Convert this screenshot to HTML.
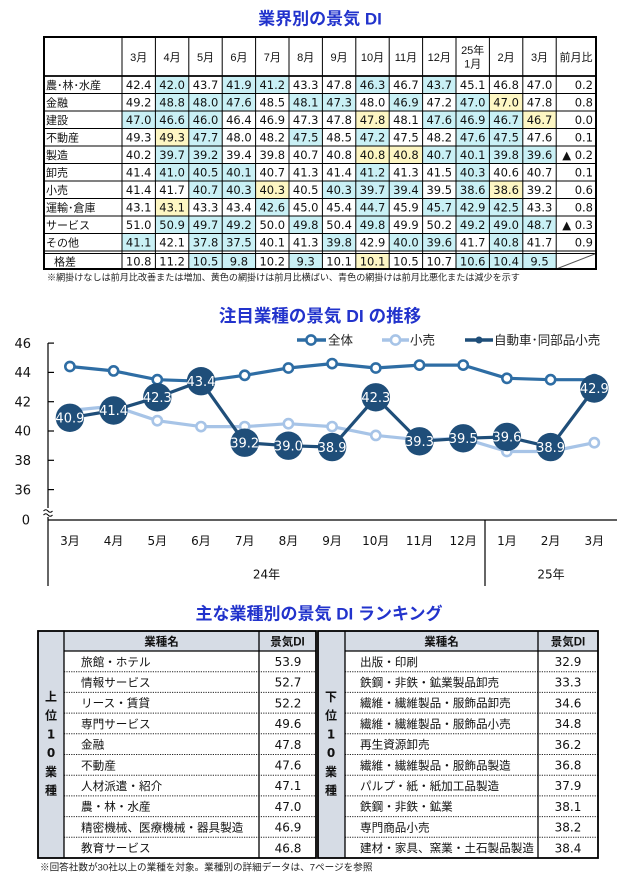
<!DOCTYPE html>
<html><head><meta charset="utf-8">
<style>
html,body{margin:0;padding:0;background:#fff;}
svg{display:block}
.n{font-family:"DejaVu Sans","Noto Sans CJK JP",sans-serif;font-size:11.5px;text-anchor:middle;fill:#111}
.nr{font-family:"DejaVu Sans","Noto Sans CJK JP",sans-serif;font-size:11.5px;text-anchor:end;fill:#111}
.l{font-family:"Liberation Sans","Noto Sans CJK JP",sans-serif;font-size:11px;fill:#111}
.h{font-family:"Liberation Sans","Noto Sans CJK JP",sans-serif;font-size:11px;fill:#111;text-anchor:middle}
.t{font-family:"Liberation Sans","Noto Sans CJK JP",sans-serif;font-weight:bold;font-size:17px;fill:#2233cc;text-anchor:middle}
.c{fill:#c9f0f5}
.y{fill:#fdf6c3}
.ax{font-family:"DejaVu Sans","Noto Sans CJK JP",sans-serif;font-size:13px;fill:#111;text-anchor:end}
.mo{font-family:"DejaVu Sans","Noto Sans CJK JP",sans-serif;font-size:12px;fill:#111;text-anchor:middle}
.lg{font-family:"Liberation Sans","Noto Sans CJK JP",sans-serif;font-size:12.5px;fill:#222}
.bl{font-family:"DejaVu Sans",sans-serif;font-size:13px;fill:#fff;text-anchor:middle}
.rn{font-family:"Liberation Sans","Noto Sans CJK JP",sans-serif;font-size:11.6px;fill:#111}
.rv{font-family:"DejaVu Sans",sans-serif;font-size:12px;fill:#111;text-anchor:middle}
.rh{font-family:"Liberation Sans","Noto Sans CJK JP",sans-serif;font-size:11.5px;font-weight:bold;fill:#111;text-anchor:middle}
.sd{font-family:"DejaVu Sans","Noto Sans CJK JP",sans-serif;font-size:12px;font-weight:bold;fill:#111;text-anchor:middle}
.fn{font-family:"Liberation Sans","Noto Sans CJK JP",sans-serif;font-size:9.1px;fill:#222}
</style></head>
<body>
<svg width="625" height="874" viewBox="0 0 625 874" xmlns="http://www.w3.org/2000/svg">
<rect width="625" height="874" fill="#fff"/>

<!-- ===== TABLE 1 ===== -->
<text class="t" x="320" y="24.5">業界別の景気 DI</text>

<g>
<rect class="c" x="155.4" y="76" width="33.4" height="17.5"/><rect class="c" x="222.2" y="76" width="33.4" height="17.5"/><rect class="c" x="255.6" y="76" width="33.4" height="17.5"/><rect class="c" x="355.8" y="76" width="33.4" height="17.5"/><rect class="c" x="422.6" y="76" width="33.4" height="17.5"/>

<rect class="c" x="155.4" y="93.5" width="33.4" height="17.5"/><rect class="c" x="188.8" y="93.5" width="33.4" height="17.5"/><rect class="c" x="222.2" y="93.5" width="33.4" height="17.5"/><rect class="c" x="289" y="93.5" width="33.4" height="17.5"/><rect class="c" x="322.4" y="93.5" width="33.4" height="17.5"/><rect class="c" x="389.2" y="93.5" width="33.4" height="17.5"/><rect class="c" x="456" y="93.5" width="33.4" height="17.5"/><rect class="y" x="489.4" y="93.5" width="33.4" height="17.5"/>

<rect class="c" x="122" y="111" width="33.4" height="17.5"/><rect class="c" x="155.4" y="111" width="33.4" height="17.5"/><rect class="c" x="188.8" y="111" width="33.4" height="17.5"/><rect class="c" x="422.6" y="111" width="33.4" height="17.5"/><rect class="c" x="456" y="111" width="33.4" height="17.5"/><rect class="c" x="489.4" y="111" width="33.4" height="17.5"/><rect class="y" x="355.8" y="111" width="33.4" height="17.5"/><rect class="y" x="522.8" y="111" width="33.4" height="17.5"/>

<rect class="y" x="155.4" y="128.5" width="33.4" height="17.5"/><rect class="c" x="188.8" y="128.5" width="33.4" height="17.5"/><rect class="c" x="289" y="128.5" width="33.4" height="17.5"/><rect class="c" x="355.8" y="128.5" width="33.4" height="17.5"/><rect class="c" x="456" y="128.5" width="33.4" height="17.5"/><rect class="c" x="489.4" y="128.5" width="33.4" height="17.5"/>

<rect class="c" x="155.4" y="146" width="33.4" height="17.5"/><rect class="c" x="188.8" y="146" width="33.4" height="17.5"/><rect class="c" x="422.6" y="146" width="33.4" height="17.5"/><rect class="c" x="456" y="146" width="33.4" height="17.5"/><rect class="c" x="489.4" y="146" width="33.4" height="17.5"/><rect class="c" x="522.8" y="146" width="33.4" height="17.5"/><rect class="y" x="355.8" y="146" width="33.4" height="17.5"/><rect class="y" x="389.2" y="146" width="33.4" height="17.5"/>

<rect class="c" x="155.4" y="163.5" width="33.4" height="17.5"/><rect class="c" x="188.8" y="163.5" width="33.4" height="17.5"/><rect class="c" x="222.2" y="163.5" width="33.4" height="17.5"/><rect class="c" x="355.8" y="163.5" width="33.4" height="17.5"/><rect class="c" x="456" y="163.5" width="33.4" height="17.5"/>

<rect class="c" x="188.8" y="181" width="33.4" height="17.5"/><rect class="c" x="222.2" y="181" width="33.4" height="17.5"/><rect class="c" x="322.4" y="181" width="33.4" height="17.5"/><rect class="c" x="355.8" y="181" width="33.4" height="17.5"/><rect class="c" x="389.2" y="181" width="33.4" height="17.5"/><rect class="c" x="456" y="181" width="33.4" height="17.5"/><rect class="y" x="255.6" y="181" width="33.4" height="17.5"/><rect class="y" x="489.4" y="181" width="33.4" height="17.5"/>

<rect class="y" x="155.4" y="198.5" width="33.4" height="17.5"/><rect class="c" x="255.6" y="198.5" width="33.4" height="17.5"/><rect class="c" x="355.8" y="198.5" width="33.4" height="17.5"/><rect class="c" x="422.6" y="198.5" width="33.4" height="17.5"/><rect class="c" x="456" y="198.5" width="33.4" height="17.5"/><rect class="c" x="489.4" y="198.5" width="33.4" height="17.5"/>

<rect class="c" x="155.4" y="216" width="33.4" height="17.5"/><rect class="c" x="188.8" y="216" width="33.4" height="17.5"/><rect class="c" x="222.2" y="216" width="33.4" height="17.5"/><rect class="c" x="289" y="216" width="33.4" height="17.5"/><rect class="c" x="355.8" y="216" width="33.4" height="17.5"/><rect class="c" x="456" y="216" width="33.4" height="17.5"/><rect class="c" x="489.4" y="216" width="33.4" height="17.5"/><rect class="c" x="522.8" y="216" width="33.4" height="17.5"/>

<rect class="c" x="122" y="233.5" width="33.4" height="17.5"/><rect class="c" x="188.8" y="233.5" width="33.4" height="17.5"/><rect class="c" x="222.2" y="233.5" width="33.4" height="17.5"/><rect class="c" x="322.4" y="233.5" width="33.4" height="17.5"/><rect class="c" x="389.2" y="233.5" width="33.4" height="17.5"/><rect class="c" x="422.6" y="233.5" width="33.4" height="17.5"/><rect class="c" x="489.4" y="233.5" width="33.4" height="17.5"/>

<rect class="c" x="188.8" y="253.5" width="33.4" height="15.5"/><rect class="c" x="222.2" y="253.5" width="33.4" height="15.5"/><rect class="c" x="289" y="253.5" width="33.4" height="15.5"/><rect class="c" x="456" y="253.5" width="33.4" height="15.5"/><rect class="c" x="489.4" y="253.5" width="33.4" height="15.5"/><rect class="c" x="522.8" y="253.5" width="33.4" height="15.5"/><rect class="y" x="355.8" y="253.5" width="33.4" height="15.5"/>
</g>

<g stroke="#000" stroke-width="1" fill="none">
<path d="M122,37V269M155.4,37V269M188.8,37V269M222.2,37V269M255.6,37V269M289,37V269M322.4,37V269M355.8,37V269M389.2,37V269M422.6,37V269M456,37V269M489.4,37V269M522.8,37V269M556.2,37V269"/>
<path d="M44,93.5H596M44,111H596M44,128.5H596M44,146H596M44,163.5H596M44,181H596M44,198.5H596M44,216H596M44,233.5H596M44,251H596M44,253.5H596"/>
<path d="M44,76H596" stroke-width="1.8"/>
<path d="M556.2,269L596,253.5" stroke="#555"/>
<rect x="44" y="37" width="552" height="232" stroke-width="2"/>
</g>

<text class="h" y="61"><tspan x="138.7">3月</tspan><tspan x="172.1">4月</tspan><tspan x="205.5">5月</tspan><tspan x="238.9">6月</tspan><tspan x="272.3">7月</tspan><tspan x="305.7">8月</tspan><tspan x="339.1">9月</tspan><tspan x="372.5">10月</tspan><tspan x="405.9">11月</tspan><tspan x="439.3">12月</tspan><tspan x="506.1">2月</tspan><tspan x="539.5">3月</tspan><tspan x="576">前月比</tspan></text>
<text class="h" x="472.7" y="54">25年</text>
<text class="h" x="472.7" y="67.5">1月</text>

<text class="l" x="46" y="89">農･林･水産</text>
<text class="l" x="46" y="106.5">金融</text>
<text class="l" x="46" y="124">建設</text>
<text class="l" x="46" y="141.5">不動産</text>
<text class="l" x="46" y="159">製造</text>
<text class="l" x="46" y="176.5">卸売</text>
<text class="l" x="46" y="194">小売</text>
<text class="l" x="46" y="211.5">運輸･倉庫</text>
<text class="l" x="46" y="229">サービス</text>
<text class="l" x="46" y="246.5">その他</text>
<text class="l" x="54" y="265.5">格差</text>

<text class="n" y="89"><tspan x="138.7">42.4</tspan><tspan x="172.1">42.0</tspan><tspan x="205.5">43.7</tspan><tspan x="238.9">41.9</tspan><tspan x="272.3">41.2</tspan><tspan x="305.7">43.3</tspan><tspan x="339.1">47.8</tspan><tspan x="372.5">46.3</tspan><tspan x="405.9">46.7</tspan><tspan x="439.3">43.7</tspan><tspan x="472.7">45.1</tspan><tspan x="506.1">46.8</tspan><tspan x="539.5">47.0</tspan></text>
<text class="n" y="106.5"><tspan x="138.7">49.2</tspan><tspan x="172.1">48.8</tspan><tspan x="205.5">48.0</tspan><tspan x="238.9">47.6</tspan><tspan x="272.3">48.5</tspan><tspan x="305.7">48.1</tspan><tspan x="339.1">47.3</tspan><tspan x="372.5">48.0</tspan><tspan x="405.9">46.9</tspan><tspan x="439.3">47.2</tspan><tspan x="472.7">47.0</tspan><tspan x="506.1">47.0</tspan><tspan x="539.5">47.8</tspan></text>
<text class="n" y="124"><tspan x="138.7">47.0</tspan><tspan x="172.1">46.6</tspan><tspan x="205.5">46.0</tspan><tspan x="238.9">46.4</tspan><tspan x="272.3">46.9</tspan><tspan x="305.7">47.3</tspan><tspan x="339.1">47.8</tspan><tspan x="372.5">47.8</tspan><tspan x="405.9">48.1</tspan><tspan x="439.3">47.6</tspan><tspan x="472.7">46.9</tspan><tspan x="506.1">46.7</tspan><tspan x="539.5">46.7</tspan></text>
<text class="n" y="141.5"><tspan x="138.7">49.3</tspan><tspan x="172.1">49.3</tspan><tspan x="205.5">47.7</tspan><tspan x="238.9">48.0</tspan><tspan x="272.3">48.2</tspan><tspan x="305.7">47.5</tspan><tspan x="339.1">48.5</tspan><tspan x="372.5">47.2</tspan><tspan x="405.9">47.5</tspan><tspan x="439.3">48.2</tspan><tspan x="472.7">47.6</tspan><tspan x="506.1">47.5</tspan><tspan x="539.5">47.6</tspan></text>
<text class="n" y="159"><tspan x="138.7">40.2</tspan><tspan x="172.1">39.7</tspan><tspan x="205.5">39.2</tspan><tspan x="238.9">39.4</tspan><tspan x="272.3">39.8</tspan><tspan x="305.7">40.7</tspan><tspan x="339.1">40.8</tspan><tspan x="372.5">40.8</tspan><tspan x="405.9">40.8</tspan><tspan x="439.3">40.7</tspan><tspan x="472.7">40.1</tspan><tspan x="506.1">39.8</tspan><tspan x="539.5">39.6</tspan></text>
<text class="n" y="176.5"><tspan x="138.7">41.4</tspan><tspan x="172.1">41.0</tspan><tspan x="205.5">40.5</tspan><tspan x="238.9">40.1</tspan><tspan x="272.3">40.7</tspan><tspan x="305.7">41.3</tspan><tspan x="339.1">41.4</tspan><tspan x="372.5">41.2</tspan><tspan x="405.9">41.3</tspan><tspan x="439.3">41.5</tspan><tspan x="472.7">40.3</tspan><tspan x="506.1">40.6</tspan><tspan x="539.5">40.7</tspan></text>
<text class="n" y="194"><tspan x="138.7">41.4</tspan><tspan x="172.1">41.7</tspan><tspan x="205.5">40.7</tspan><tspan x="238.9">40.3</tspan><tspan x="272.3">40.3</tspan><tspan x="305.7">40.5</tspan><tspan x="339.1">40.3</tspan><tspan x="372.5">39.7</tspan><tspan x="405.9">39.4</tspan><tspan x="439.3">39.5</tspan><tspan x="472.7">38.6</tspan><tspan x="506.1">38.6</tspan><tspan x="539.5">39.2</tspan></text>
<text class="n" y="211.5"><tspan x="138.7">43.1</tspan><tspan x="172.1">43.1</tspan><tspan x="205.5">43.3</tspan><tspan x="238.9">43.4</tspan><tspan x="272.3">42.6</tspan><tspan x="305.7">45.0</tspan><tspan x="339.1">45.4</tspan><tspan x="372.5">44.7</tspan><tspan x="405.9">45.9</tspan><tspan x="439.3">45.7</tspan><tspan x="472.7">42.9</tspan><tspan x="506.1">42.5</tspan><tspan x="539.5">43.3</tspan></text>
<text class="n" y="229"><tspan x="138.7">51.0</tspan><tspan x="172.1">50.9</tspan><tspan x="205.5">49.7</tspan><tspan x="238.9">49.2</tspan><tspan x="272.3">50.0</tspan><tspan x="305.7">49.8</tspan><tspan x="339.1">50.4</tspan><tspan x="372.5">49.8</tspan><tspan x="405.9">49.9</tspan><tspan x="439.3">50.2</tspan><tspan x="472.7">49.2</tspan><tspan x="506.1">49.0</tspan><tspan x="539.5">48.7</tspan></text>
<text class="n" y="246.5"><tspan x="138.7">41.1</tspan><tspan x="172.1">42.1</tspan><tspan x="205.5">37.8</tspan><tspan x="238.9">37.5</tspan><tspan x="272.3">40.1</tspan><tspan x="305.7">41.3</tspan><tspan x="339.1">39.8</tspan><tspan x="372.5">42.9</tspan><tspan x="405.9">40.0</tspan><tspan x="439.3">39.6</tspan><tspan x="472.7">41.7</tspan><tspan x="506.1">40.8</tspan><tspan x="539.5">41.7</tspan></text>
<text class="n" y="265.5"><tspan x="138.7">10.8</tspan><tspan x="172.1">11.2</tspan><tspan x="205.5">10.5</tspan><tspan x="238.9">9.8</tspan><tspan x="272.3">10.2</tspan><tspan x="305.7">9.3</tspan><tspan x="339.1">10.1</tspan><tspan x="372.5">10.1</tspan><tspan x="405.9">10.5</tspan><tspan x="439.3">10.7</tspan><tspan x="472.7">10.6</tspan><tspan x="506.1">10.4</tspan><tspan x="539.5">9.5</tspan></text>

<text class="nr" x="593" y="89">0.2</text>
<text class="nr" x="593" y="106.5">0.8</text>
<text class="nr" x="593" y="124">0.0</text>
<text class="nr" x="593" y="141.5">0.1</text>
<text class="nr" x="593" y="159">▲ 0.2</text>
<text class="nr" x="593" y="176.5">0.1</text>
<text class="nr" x="593" y="194">0.6</text>
<text class="nr" x="593" y="211.5">0.8</text>
<text class="nr" x="593" y="229">▲ 0.3</text>
<text class="nr" x="593" y="246.5">0.9</text>

<text class="fn" x="47" y="280.5">※網掛けなしは前月比改善または増加、黄色の網掛けは前月比横ばい、青色の網掛けは前月比悪化または減少を示す</text>

<!-- ===== CHART ===== -->
<text class="t" x="320" y="322" style="font-size:17.5px">注目業種の景気 DI の推移</text>

<line x1="297" y1="340" x2="326" y2="340" stroke="#2e6da4" stroke-width="3.5"/>
<circle cx="311" cy="340" r="4.6" fill="#fff" stroke="#2e6da4" stroke-width="2.6"/>
<text class="lg" x="328" y="344.5">全体</text>
<line x1="382" y1="340" x2="409" y2="340" stroke="#a7c4e7" stroke-width="3.5"/>
<circle cx="395.5" cy="340" r="4.6" fill="#fff" stroke="#a7c4e7" stroke-width="2.6"/>
<text class="lg" x="410" y="344.5">小売</text>
<line x1="465" y1="340" x2="493" y2="340" stroke="#1f4e79" stroke-width="3.5"/>
<circle cx="479" cy="340" r="3.5" fill="#1f4e79"/>
<text class="lg" x="494" y="344.5">自動車･同部品小売</text>

<g stroke="#000" stroke-width="1.2">
<line x1="48" y1="343" x2="48" y2="508"/>
<line x1="48" y1="517" x2="48" y2="520"/>
<line x1="48" y1="343.1" x2="54" y2="343.1"/>
<line x1="48" y1="372.4" x2="54" y2="372.4"/>
<line x1="48" y1="401.7" x2="54" y2="401.7"/>
<line x1="48" y1="431" x2="54" y2="431"/>
<line x1="48" y1="460.3" x2="54" y2="460.3"/>
<line x1="48" y1="489.6" x2="54" y2="489.6"/>
</g>
<path d="M43.5,511 q2.3,-2.6 4.5,0 t4.5,0 M43.5,515 q2.3,-2.6 4.5,0 t4.5,0" stroke="#000" stroke-width="1" fill="none"/>
<text class="ax" x="31" y="347.8">46</text>
<text class="ax" x="31" y="377.1">44</text>
<text class="ax" x="31" y="406.4">42</text>
<text class="ax" x="31" y="435.7">40</text>
<text class="ax" x="31" y="465">38</text>
<text class="ax" x="31" y="494.3">36</text>
<text class="ax" x="30" y="524.5">0</text>

<g stroke="#000" stroke-width="1.2">
<line x1="48" y1="520" x2="617" y2="520"/>
<line x1="48" y1="520" x2="48" y2="586"/>
<line x1="485" y1="520" x2="485" y2="586"/>
</g>
<text class="mo" y="545"><tspan x="69.9">3月</tspan><tspan x="113.6">4月</tspan><tspan x="157.3">5月</tspan><tspan x="201">6月</tspan><tspan x="244.7">7月</tspan><tspan x="288.4">8月</tspan><tspan x="332.1">9月</tspan><tspan x="375.8">10月</tspan><tspan x="419.5">11月</tspan><tspan x="463.2">12月</tspan><tspan x="506.9">1月</tspan><tspan x="550.6">2月</tspan><tspan x="594.3">3月</tspan></text>
<text class="mo" x="266.5" y="578.5">24年</text>
<text class="mo" x="551" y="578.5">25年</text>

<polyline fill="none" stroke="#a7c4e7" stroke-width="3.2" stroke-linejoin="round" points="69.9,410.5 113.6,406.1 157.3,420.7 201,426.6 244.7,426.6 288.4,423.7 332.1,426.6 375.8,435.4 419.5,439.8 463.2,438.3 506.9,451.5 550.6,451.5 594.3,442.7"/>
<g fill="#fff" stroke="#a7c4e7" stroke-width="2.6">
<circle cx="69.9" cy="410.5" r="4.6"/><circle cx="113.6" cy="406.1" r="4.6"/><circle cx="157.3" cy="420.7" r="4.6"/><circle cx="201" cy="426.6" r="4.6"/><circle cx="244.7" cy="426.6" r="4.6"/><circle cx="288.4" cy="423.7" r="4.6"/><circle cx="332.1" cy="426.6" r="4.6"/><circle cx="375.8" cy="435.4" r="4.6"/><circle cx="419.5" cy="439.8" r="4.6"/><circle cx="463.2" cy="438.3" r="4.6"/><circle cx="506.9" cy="451.5" r="4.6"/><circle cx="550.6" cy="451.5" r="4.6"/><circle cx="594.3" cy="442.7" r="4.6"/>
</g>

<polyline fill="none" stroke="#2e6da4" stroke-width="3.2" stroke-linejoin="round" points="69.9,366.5 113.6,370.9 157.3,379.7 201,381.2 244.7,375.3 288.4,368 332.1,363.6 375.8,368 419.5,365.1 463.2,365.1 506.9,378.3 550.6,379.7 594.3,379.7"/>
<g fill="#fff" stroke="#2e6da4" stroke-width="2.6">
<circle cx="69.9" cy="366.5" r="4.6"/><circle cx="113.6" cy="370.9" r="4.6"/><circle cx="157.3" cy="379.7" r="4.6"/><circle cx="201" cy="381.2" r="4.6"/><circle cx="244.7" cy="375.3" r="4.6"/><circle cx="288.4" cy="368" r="4.6"/><circle cx="332.1" cy="363.6" r="4.6"/><circle cx="375.8" cy="368" r="4.6"/><circle cx="419.5" cy="365.1" r="4.6"/><circle cx="463.2" cy="365.1" r="4.6"/><circle cx="506.9" cy="378.3" r="4.6"/><circle cx="550.6" cy="379.7" r="4.6"/><circle cx="594.3" cy="379.7" r="4.6"/>
</g>

<polyline fill="none" stroke="#1f4e79" stroke-width="3.2" stroke-linejoin="round" points="69.9,417.8 113.6,410.5 157.3,397.3 201,381.2 244.7,442.7 288.4,445.7 332.1,447.1 375.8,397.3 419.5,441.3 463.2,438.3 506.9,436.9 550.6,447.1 594.3,388.5"/>
<g fill="#1f4e79">
<circle cx="69.9" cy="417.8" r="14.2"/><circle cx="113.6" cy="410.5" r="14.2"/><circle cx="157.3" cy="397.3" r="14.2"/><circle cx="201" cy="381.2" r="14.2"/><circle cx="244.7" cy="442.7" r="14.2"/><circle cx="288.4" cy="445.7" r="14.2"/><circle cx="332.1" cy="447.1" r="14.2"/><circle cx="375.8" cy="397.3" r="14.2"/><circle cx="419.5" cy="441.3" r="14.2"/><circle cx="463.2" cy="438.3" r="14.2"/><circle cx="506.9" cy="436.9" r="14.2"/><circle cx="550.6" cy="447.1" r="14.2"/><circle cx="594.3" cy="388.5" r="14.2"/>
</g>
<text class="bl" x="69.9" y="422.5">40.9</text>
<text class="bl" x="113.6" y="415.2">41.4</text>
<text class="bl" x="157.3" y="402">42.3</text>
<text class="bl" x="201" y="385.9">43.4</text>
<text class="bl" x="244.7" y="447.4">39.2</text>
<text class="bl" x="288.4" y="450.4">39.0</text>
<text class="bl" x="332.1" y="451.8">38.9</text>
<text class="bl" x="375.8" y="402">42.3</text>
<text class="bl" x="419.5" y="446">39.3</text>
<text class="bl" x="463.2" y="443">39.5</text>
<text class="bl" x="506.9" y="441.6">39.6</text>
<text class="bl" x="550.6" y="451.8">38.9</text>
<text class="bl" x="594.3" y="393.2">42.9</text>

<!-- ===== RANKING ===== -->
<text class="t" x="319" y="619.5">主な業種別の景気 DI ランキング</text>

<rect x="38" y="631" width="26" height="227" fill="#d6dce5"/>
<rect x="64" y="631" width="252" height="20" fill="#d6dce5"/>
<g stroke="#222" stroke-width="1" stroke-dasharray="1.2,1.2" fill="none">
<path d="M64,671.7H316M64,692.4H316M64,713.1H316M64,733.8H316M64,754.5H316M64,775.2H316M64,795.9H316M64,816.6H316M64,837.3H316"/>
</g>
<g stroke="#000" fill="none">
<path d="M64,651H316" stroke-width="1.2"/>
<path d="M64,631V858M259,631V858" stroke-width="1.3"/>
<rect x="38" y="631" width="278" height="227" stroke-width="1.8"/>
</g>
<text class="rh" x="161.5" y="645.5">業種名</text>
<text class="rh" x="287.5" y="645.5">景気DI</text>
<text class="sd"><tspan x="51" y="701">上</tspan><tspan x="51" y="719.7">位</tspan><tspan x="51" y="738.4">1</tspan><tspan x="51" y="757.1">0</tspan><tspan x="51" y="775.8">業</tspan><tspan x="51" y="794.5">種</tspan></text>
<text class="rn" x="81" y="665.8">旅館・ホテル</text>
<text class="rn" x="81" y="686.5">情報サービス</text>
<text class="rn" x="81" y="707.2">リース・賃貸</text>
<text class="rn" x="81" y="727.9">専門サービス</text>
<text class="rn" x="81" y="748.6">金融</text>
<text class="rn" x="81" y="769.3">不動産</text>
<text class="rn" x="81" y="790">人材派遣・紹介</text>
<text class="rn" x="81" y="810.7">農・林・水産</text>
<text class="rn" x="81" y="831.4">精密機械、医療機械・器具製造</text>
<text class="rn" x="81" y="852.1">教育サービス</text>
<text class="rv" x="288" y="666">53.9</text>
<text class="rv" x="288" y="686.7">52.7</text>
<text class="rv" x="288" y="707.4">52.2</text>
<text class="rv" x="288" y="728.1">49.6</text>
<text class="rv" x="288" y="748.8">47.8</text>
<text class="rv" x="288" y="769.5">47.6</text>
<text class="rv" x="288" y="790.2">47.1</text>
<text class="rv" x="288" y="810.9">47.0</text>
<text class="rv" x="288" y="831.6">46.9</text>
<text class="rv" x="288" y="852.3">46.8</text>

<rect x="318" y="631" width="27" height="227" fill="#d6dce5"/>
<rect x="345" y="631" width="253" height="20" fill="#d6dce5"/>
<g stroke="#222" stroke-width="1" stroke-dasharray="1.2,1.2" fill="none">
<path d="M345,671.7H598M345,692.4H598M345,713.1H598M345,733.8H598M345,754.5H598M345,775.2H598M345,795.9H598M345,816.6H598M345,837.3H598"/>
</g>
<g stroke="#000" fill="none">
<path d="M345,651H598" stroke-width="1.2"/>
<path d="M345,631V858M538,631V858" stroke-width="1.3"/>
<rect x="318" y="631" width="280" height="227" stroke-width="1.8"/>
</g>
<text class="rh" x="441.5" y="645.5">業種名</text>
<text class="rh" x="568" y="645.5">景気DI</text>
<text class="sd"><tspan x="331" y="701">下</tspan><tspan x="331" y="719.7">位</tspan><tspan x="331" y="738.4">1</tspan><tspan x="331" y="757.1">0</tspan><tspan x="331" y="775.8">業</tspan><tspan x="331" y="794.5">種</tspan></text>
<text class="rn" x="360" y="665.8">出版・印刷</text>
<text class="rn" x="360" y="686.5">鉄鋼・非鉄・鉱業製品卸売</text>
<text class="rn" x="360" y="707.2">繊維・繊維製品・服飾品卸売</text>
<text class="rn" x="360" y="727.9">繊維・繊維製品・服飾品小売</text>
<text class="rn" x="360" y="748.6">再生資源卸売</text>
<text class="rn" x="360" y="769.3">繊維・繊維製品・服飾品製造</text>
<text class="rn" x="360" y="790">パルプ・紙・紙加工品製造</text>
<text class="rn" x="360" y="810.7">鉄鋼・非鉄・鉱業</text>
<text class="rn" x="360" y="831.4">専門商品小売</text>
<text class="rn" x="360" y="852.1">建材・家具、窯業・土石製品製造</text>
<text class="rv" x="568" y="666">32.9</text>
<text class="rv" x="568" y="686.7">33.3</text>
<text class="rv" x="568" y="707.4">34.6</text>
<text class="rv" x="568" y="728.1">34.8</text>
<text class="rv" x="568" y="748.8">36.2</text>
<text class="rv" x="568" y="769.5">36.8</text>
<text class="rv" x="568" y="790.2">37.9</text>
<text class="rv" x="568" y="810.9">38.1</text>
<text class="rv" x="568" y="831.6">38.2</text>
<text class="rv" x="568" y="852.3">38.4</text>

<text class="fn" x="40" y="870.5" style="font-size:9.6px">※回答社数が30社以上の業種を対象。業種別の詳細データは、7ページを参照</text>
</svg>
</body></html>
